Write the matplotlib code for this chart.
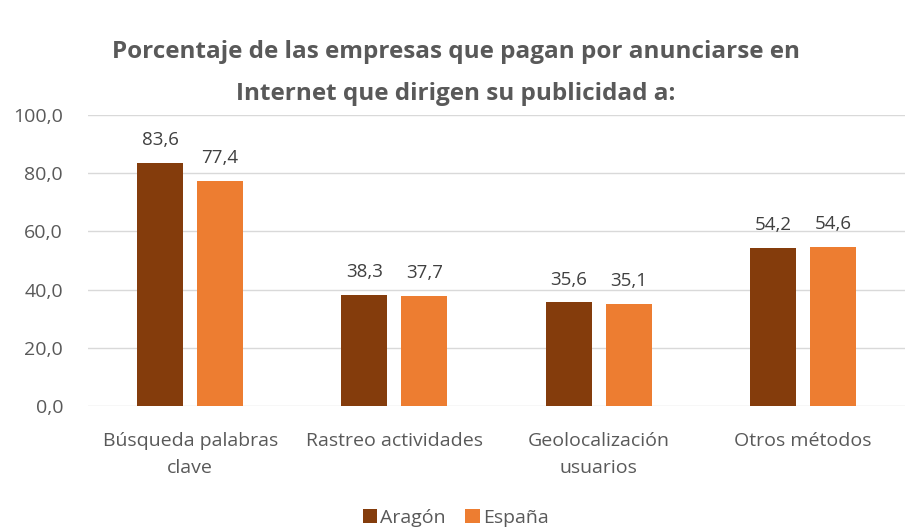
import numpy as np
import matplotlib.pyplot as plt

categories = ['Búsqueda palabras\nclave', 'Rastreo actividades',
              'Geolocalización\nusuarios', 'Otros métodos']
aragon = [83.6, 38.3, 35.6, 54.2]
espana = [77.4, 37.7, 35.1, 54.6]
series_names = ['Aragón', 'España']
yticks = [0, 20, 40, 60, 80, 100]

plt.rcParams['font.family'] = ['Open Sans', 'DejaVu Sans']
gray = '#595959'

fig = plt.figure(figsize=(9.11, 5.31), dpi=100)
ax = fig.add_axes([0.0966, 0.2354, 0.897, 0.548])

x = np.arange(len(categories))
w = 0.225
off = (w + 0.069) / 2
b1 = ax.bar(x - off, aragon, w, color='#843C0C', label=series_names[0], zorder=3)
b2 = ax.bar(x + off, espana, w, color='#ED7D31', label=series_names[1], zorder=3)

for bars, vals in ((b1, aragon), (b2, espana)):
    for rect, v in zip(bars, vals):
        ax.annotate(f'{v:.1f}'.replace('.', ','),
                    (rect.get_x() + rect.get_width() / 2, v),
                    xytext=(0, 10), textcoords='offset points',
                    ha='center', va='bottom', fontsize=13.5, color='#404040')

ax.set_xlim(-0.5, len(categories) - 0.5)
ax.set_ylim(0, 100)
ax.set_yticks(yticks)
ax.set_yticklabels([f'{t:.1f}'.replace('.', ',') for t in yticks],
                   fontsize=14, color=gray)
ax.set_xticks(x)
ax.set_xticklabels(categories, fontsize=14, color=gray, linespacing=1.6)
ax.tick_params(axis='y', length=0, pad=18)
ax.tick_params(axis='x', length=0, pad=19)
ax.yaxis.grid(True, color='#D9D9D9', linewidth=1, zorder=0)
for s in ax.spines.values():
    s.set_visible(False)

fig.suptitle('Porcentaje de las empresas que pagan por anunciarse en\n'
             'Internet que dirigen su publicidad a:',
             x=0.5, y=0.925, fontsize=17.5, fontweight='bold', color=gray,
             linespacing=2.0)

fig.legend(loc='lower center', bbox_to_anchor=(0.5, -0.025), ncol=2,
           frameon=False, fontsize=14, handlelength=0.75, handleheight=0.75,
           handletextpad=0.15, columnspacing=1.0, labelcolor=gray)

fig.savefig('out.png', dpi=100)
